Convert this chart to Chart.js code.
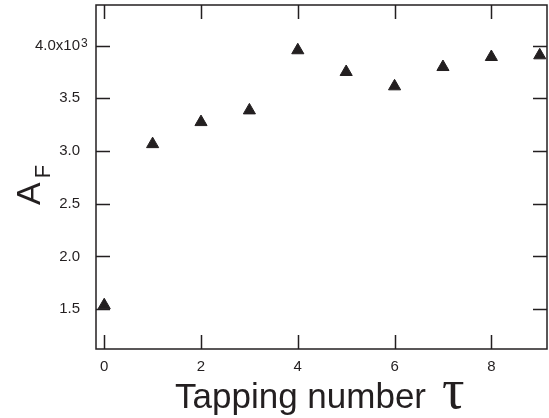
<html>
    <head>
        <style>
            body { margin: 0; background: #fff; }
            #wrap { width: 549px; height: 418px; }
        </style>
    </head>
    <body>
        <div id="wrap"><canvas id="graph" width="549" height="418"></canvas></div>
        <script src="https://cdn.jsdelivr.net/npm/chart.js@4.4.0/dist/chart.umd.min.js"></script>
        <script>

            // Data (A_F values, not scaled)
            var tapping = [0, 1, 2, 3, 4, 5, 6, 7, 8, 9];
            var areaF = [1538, 3065, 3274, 3385, 3955, 3749, 3613, 3796, 3891, 3907];

            // Axis ticks
            var xTicks = [0, 2, 4, 6, 8];
            var yTicks = [1500, 2000, 2500, 3000, 3500, 4000];

            var ink = '#231f20';
            var sans = '"Liberation Sans", Arial, sans-serif';

            // Draws the box, inward ticks (all four sides) and the axis titles
            var framePlugin = {
                id: 'frame',
                afterDraw(chart) {
                    var ctx = chart.ctx;
                    var a = chart.chartArea;
                    var xs = chart.scales.x, ys = chart.scales.y;
                    ctx.save();
                    ctx.strokeStyle = ink;
                    ctx.lineWidth = 1.5;
                    ctx.strokeRect(a.left, a.top, a.right - a.left, a.bottom - a.top);

                    ctx.beginPath();
                    xTicks.forEach(function (v) {
                        var px = Math.round(xs.getPixelForValue(v)) + 0.5;
                        ctx.moveTo(px, a.bottom); ctx.lineTo(px, a.bottom - 14);
                        ctx.moveTo(px, a.top); ctx.lineTo(px, a.top + 14);
                    });
                    yTicks.forEach(function (v) {
                        var py = Math.round(ys.getPixelForValue(v)) + 0.5;
                        ctx.moveTo(a.left, py); ctx.lineTo(a.left + 14, py);
                        ctx.moveTo(a.right, py); ctx.lineTo(a.right - 14, py);
                    });
                    ctx.stroke();

                    ctx.fillStyle = ink;
                    // exponent on the top tick label
                    ctx.font = '12px ' + sans;
                    ctx.textAlign = 'left';
                    ctx.textBaseline = 'alphabetic';
                    ctx.fillText('3', 81, ys.getPixelForValue(4000) + 1);

                    // x title
                    ctx.font = '35px ' + sans;
                    ctx.fillText('Tapping number', 175, 408);
                    ctx.font = '56px "Liberation Serif", "DejaVu Serif", serif';
                    ctx.fillText('\u03c4', 442, 408);

                    // y title A_F
                    ctx.translate(40, 205);
                    ctx.rotate(-Math.PI / 2);
                    ctx.font = '34px ' + sans;
                    ctx.fillText('A', 0, 0);
                    var w = ctx.measureText('A').width;
                    ctx.font = '22px ' + sans;
                    ctx.fillText('F', w + 4, 10);
                    ctx.restore();
                }
            };

            var ctx = document.getElementById('graph').getContext('2d');
            var chart = new Chart(ctx, {
                type: 'scatter',
                data: {
                    datasets: [{
                        label: 'A_F',
                        data: tapping.map(function (t, i) { return { x: t, y: areaF[i] }; }),
                        pointStyle: 'triangle',
                        pointRadius: 7,
                        borderWidth: 1,
                        backgroundColor: ink,
                        borderColor: ink
                    }]
                },
                options: {
                    responsive: false,
                    animation: false,
                    layout: { autoPadding: false, padding: { top: 5, right: 2, left: 0, bottom: 0 } },
                    plugins: {
                        legend: { display: false },
                        tooltip: { enabled: false }
                    },
                    scales: {
                        x: {
                            type: 'linear',
                            min: -0.17,
                            max: 9.15,
                            grid: { display: false, drawTicks: false },
                            border: { display: false },
                            afterBuildTicks: function (s) { s.ticks = xTicks.map(function (v) { return { value: v }; }); },
                            afterFit: function (s) { s.height = 69; s.paddingLeft = 0; s.paddingRight = 0; },
                            ticks: {
                                padding: 9,
                                color: ink,
                                font: { family: sans, size: 15 }
                            }
                        },
                        y: {
                            min: 1123,
                            max: 4384,
                            grid: { display: false, drawTicks: false },
                            border: { display: false },
                            afterBuildTicks: function (s) { s.ticks = yTicks.map(function (v) { return { value: v }; }); },
                            afterFit: function (s) { s.width = 96; s.paddingTop = 0; s.paddingBottom = 0; },
                            ticks: {
                                padding: 16,
                                color: ink,
                                font: { family: sans, size: 15 },
                                callback: function (v) {
                                    var s = (v / 1000).toFixed(1);
                                    return v === 4000 ? s + 'x10' : s;
                                }
                            }
                        }
                    }
                },
                plugins: [framePlugin]
            });
        </script>
    </body>
</html>
